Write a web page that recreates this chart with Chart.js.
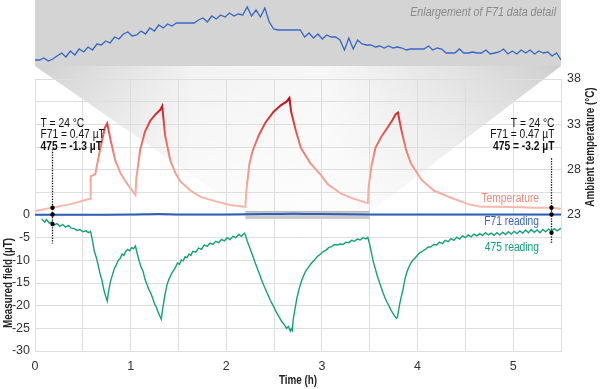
<!DOCTYPE html>
<html>
<head>
<meta charset="utf-8">
<script src="https://cdn.jsdelivr.net/npm/chart.js@4"></script>
<style>
  html, body { margin: 0; padding: 0; background: #fff; }
  #wrap { position: relative; width: 600px; height: 389px; }
  #main, #inset { position: absolute; left: 0; top: 0; }
</style>
</head>
<body>
<div id="wrap">
  <canvas id="main" width="600" height="389"></canvas>
  <canvas id="inset" width="600" height="66"></canvas>
</div>
<script>
// temperature (right axis, °C) vs time (h)
const tempTimes = [0, 0.18, 0.37, 0.577, 0.582, 0.63, 0.68, 0.73, 0.755, 0.79,
  0.84, 0.89, 0.94, 1.0, 1.05, 1.06, 1.10, 1.15, 1.205, 1.26,
  1.31, 1.33, 1.36, 1.415, 1.47, 1.52, 1.625, 1.73, 1.89, 2.04,
  2.20, 2.21, 2.24, 2.27, 2.34, 2.41, 2.495, 2.57, 2.63, 2.66,
  2.68, 2.725, 2.78, 2.88, 2.99, 3.06, 3.2, 3.33, 3.48, 3.49,
  3.52, 3.56, 3.62, 3.69, 3.74, 3.77, 3.795, 3.83, 3.88, 3.93,
  4.04, 4.17, 4.35, 4.53, 4.66, 4.87, 5.08, 5.22, 5.40, 5.50];
const tempValues = [23.45, 23.8, 24.2, 24.8, 27.25, 27.5, 30.2, 32.6, 33.1, 31.3,
  29.0, 27.7, 26.8, 25.9, 25.2, 27.1, 30.2, 32.2, 33.4, 34.1,
  34.6, 35.0, 31.8, 29.0, 27.6, 26.7, 25.7, 25.0, 24.5, 24.1,
  23.9, 25.7, 28.5, 29.9, 31.8, 33.2, 34.4, 35.1, 35.5, 35.9,
  34.3, 32.4, 30.4, 28.7, 27.4, 26.4, 25.35, 24.8, 24.3, 26.2,
  28.5, 30.4, 31.6, 32.7, 33.5, 34.1, 34.3, 32.4, 30.2, 28.7,
  26.9, 25.7, 24.9, 24.2, 23.9, 23.9, 23.85, 23.8, 23.8, 23.7];

// F71 reading (µT)
const f71Times = [0, 0.5, 1.0, 1.3, 1.5, 2.0, 2.4, 2.7, 3.0, 3.5, 4.0, 4.5, 5.0, 5.5];
const f71Values = [0.05, 0.05, 0.1, 0.2, 0.1, 0.1, 0.2, 0.3, 0.2, 0.1, 0.1, 0.1, 0.1, 0.1];

// 475 reading (µT)
const r475Times = [
  0.07, 0.10, 0.12, 0.15, 0.18, 0.20, 0.23, 0.26, 0.29, 0.32,
  0.35, 0.38, 0.41, 0.44, 0.47, 0.50, 0.53, 0.56, 0.58, 0.60,
  0.62, 0.64, 0.66, 0.68, 0.70, 0.72, 0.74, 0.755, 0.77, 0.79,
  0.81, 0.83, 0.85, 0.87, 0.89, 0.91, 0.93, 0.95, 0.97, 0.99,
  1.01, 1.03, 1.05, 1.07, 1.09, 1.11, 1.13, 1.15, 1.17, 1.19,
  1.21, 1.23, 1.25, 1.27, 1.29, 1.31, 1.32, 1.34, 1.36, 1.38,
  1.40, 1.43, 1.45, 1.47, 1.49, 1.51, 1.53, 1.55, 1.57, 1.59,
  1.61, 1.63, 1.65, 1.68, 1.71, 1.74, 1.77, 1.80, 1.83, 1.86,
  1.89, 1.92, 1.95, 1.98, 2.01, 2.04, 2.07, 2.10, 2.13, 2.16,
  2.19, 2.20, 2.22, 2.25, 2.28, 2.31, 2.34, 2.37, 2.40, 2.43,
  2.46, 2.49, 2.52, 2.55, 2.58, 2.61, 2.63, 2.65, 2.67, 2.68,
  2.69, 2.70, 2.72, 2.74, 2.76, 2.78, 2.80, 2.83, 2.86, 2.89,
  2.92, 2.95, 2.98, 3.01, 3.04, 3.07, 3.10, 3.13, 3.16, 3.19,
  3.22, 3.25, 3.28, 3.31, 3.34, 3.37, 3.40, 3.43, 3.46, 3.48,
  3.50, 3.52, 3.54, 3.56, 3.58, 3.60, 3.62, 3.64, 3.66, 3.68,
  3.70, 3.72, 3.74, 3.76, 3.78, 3.79, 3.81, 3.83, 3.85, 3.87,
  3.89, 3.91, 3.93, 3.95, 3.97, 3.99, 4.02, 4.05, 4.08, 4.11,
  4.14, 4.17, 4.20, 4.23, 4.26, 4.29, 4.32, 4.35, 4.38, 4.41,
  4.44, 4.47, 4.50, 4.53, 4.56, 4.59, 4.62, 4.65, 4.68, 4.71,
  4.74, 4.77, 4.80, 4.83, 4.86, 4.89, 4.92, 4.95, 4.98, 5.01,
  5.04, 5.07, 5.10, 5.13, 5.16, 5.19, 5.22, 5.25, 5.28, 5.31,
  5.34, 5.37, 5.40, 5.43, 5.46, 5.50];
const r475Values = [
  -0.9, -1.6, -1.0, -1.8, -1.5, -2.2, -1.9, -2.5, -2.1, -2.7,
  -2.3, -2.9, -3.0, -3.4, -3.2, -3.7, -3.5, -3.9, -3.6, -5.5,
  -8.0, -9.3, -11.0, -13.0, -14.4, -16.5, -18.0, -19.0, -16.8, -14.6,
  -13.2, -11.8, -11.0, -10.0, -9.6, -8.6, -8.9, -8.0, -7.6, -7.9,
  -7.2, -7.4, -6.8, -8.6, -10.2, -11.5, -12.4, -14.2, -15.3, -16.4,
  -17.2, -18.3, -19.6, -20.4, -21.6, -22.5, -23.0, -20.0, -17.5, -15.4,
  -14.2, -12.8, -12.2, -11.5, -10.6, -10.9, -9.9, -10.1, -9.2, -9.4,
  -8.6, -8.9, -8.0, -8.2, -7.3, -7.6, -6.6, -6.9, -6.2, -6.5,
  -5.8, -6.1, -5.4, -5.7, -5.0, -5.4, -4.7, -5.0, -4.3, -4.7,
  -4.0, -4.4, -5.8, -7.5, -9.2, -11.0, -12.6, -14.4, -15.9, -17.3,
  -18.8, -20.0, -21.3, -22.4, -23.5, -24.3, -25.0, -24.6, -25.6, -25.1,
  -25.5, -23.0, -20.5, -18.2, -16.4, -15.0, -13.8, -12.4, -11.5, -10.6,
  -10.0, -9.2, -8.7, -8.1, -7.8, -7.2, -7.0, -6.5, -6.6, -6.4,
  -6.5, -6.0, -6.1, -5.6, -5.8, -5.3, -5.5, -5.0, -5.3, -4.9,
  -6.5, -8.6, -10.5, -12.0, -13.5, -14.8, -16.0, -17.2, -18.3, -19.2,
  -20.0, -20.9, -21.6, -22.3, -22.8, -22.5, -20.0, -18.0, -16.2, -14.0,
  -12.5, -11.4, -10.6, -10.0, -9.6, -9.1, -8.4, -8.0, -7.6, -7.1,
  -7.0, -6.5, -6.6, -6.0, -6.3, -5.6, -5.9, -5.2, -5.6, -4.9,
  -5.3, -4.6, -5.0, -4.4, -4.8, -4.2, -4.6, -4.1, -4.5, -3.9,
  -4.4, -4.0, -4.5, -3.9, -4.4, -3.8, -4.3, -3.7, -4.2, -3.6,
  -4.1, -3.5, -4.0, -3.3, -3.9, -3.2, -3.8, -3.3, -3.9, -3.2,
  -3.7, -3.1, -3.6, -3.0, -3.5, -2.9];

// enlargement of F71 between 2.2 h and 3.5 h (relative units, evenly sampled)
const detailStart = 2.2, detailEnd = 3.5;
const detailValues = [
  2, 2, 4, 1, 3, 6,
  9, 5, 11, 7, 13, 10, 15, 12, 18,
  17, 21, 19, 25, 23, 28, 30, 26, 27,
  31, 28, 34, 31, 37, 34, 38, 36,
  39, 39, 39, 39, 39, 42,
  44, 40, 46, 43, 47, 45, 49, 46, 48, 47,
  55, 46, 52, 45, 54, 40,
  33, 32, 32, 32, 32, 32, 32,
  25, 29, 24, 28, 23, 27, 25, 25, 22,
  12, 24, 13, 22, 18, 17,
  17, 15, 16, 14, 16, 14, 15, 14,
  12, 13, 13, 13, 13, 16, 12, 14, 13,
  9, 9, 9, 13, 9, 9, 10,
  9, 9, 12, 8, 9, 10, 13, 8, 11, 8, 12, 9, 12, 8, 11, 9, 10, 6, 9, 2];

// reading notes at the start and end
const noteTimes = [0.18, 5.40];
const noteTemp = [23.8, 23.8];
const noteF71 = [0.1, 0.1];
const note475 = [-2.0, -3.9];
const noteTop = [14.5, 12.5];
const noteBottom = -6.3;
const noteLines = [
  ['T = 24 °C', 'F71 = 0.47 µT', '475 = -1.3 µT'],
  ['T = 24 °C', 'F71 = 0.47 µT', '475 = -3.2 µT']
];

const FONT = "'Liberation Sans', Arial, sans-serif";
const NARROW = 0.82;
const GRID = '#dedede';
const BLUE = '#2f5eb9';
const GREEN = '#14a07a';

const pts = (xs, ys) => xs.map((x, i) => ({ x: x, y: ys[i] }));

// condensed text: the reference uses a narrow face
function narrowText(c, s, x, y, align, font, color, rot) {
  c.save();
  c.translate(x, y);
  if (rot) c.rotate(rot);
  c.scale(NARROW, 1);
  c.font = font;
  c.fillStyle = color;
  c.textAlign = align;
  c.textBaseline = 'middle';
  c.fillText(s, 0, 0);
  c.restore();
}

function tempColor(ctx) {
  const chart = ctx.chart;
  if (!chart.chartArea) return '#f0a090';
  const s = chart.scales.y2;
  const g = chart.ctx.createLinearGradient(0, s.getPixelForValue(24), 0, s.getPixelForValue(36));
  g.addColorStop(0, '#f6b9ad');
  g.addColorStop(0.35, '#f19a8c');
  g.addColorStop(0.6, '#e86c63');
  g.addColorStop(0.78, '#dc3d3d');
  g.addColorStop(1, '#c20016');
  return g;
}

const decor = {
  id: 'decor',
  beforeDraw(chart) {
    const c = chart.ctx, a = chart.chartArea;
    const xs = chart.scales.x, ys = chart.scales.y;
    const x1 = xs.getPixelForValue(detailStart), x2 = xs.getPixelForValue(detailEnd);
    const yb = ys.getPixelForValue(0) - 3;
    c.save();
    c.beginPath();
    c.moveTo(a.left, 66);
    c.lineTo(a.right, 66);
    c.lineTo(x2, yb);
    c.lineTo(x1, yb);
    c.closePath();
    const g = c.createLinearGradient(a.left, 0, a.right, 0);
    g.addColorStop(0, '#d0d0d0');
    g.addColorStop(0.3, '#f2f2f2');
    g.addColorStop(0.55, '#f7f7f7');
    g.addColorStop(0.8, '#e2e2e2');
    g.addColorStop(1, '#cecece');
    c.fillStyle = g;
    c.fill();
    const v = c.createLinearGradient(0, 66, 0, yb);
    v.addColorStop(0, 'rgba(255,255,255,0)');
    v.addColorStop(1, 'rgba(255,255,255,0.75)');
    c.fillStyle = v;
    c.fill();
    c.restore();
  },
  beforeDatasetsDraw(chart) {
    const c = chart.ctx;
    const xs = chart.scales.x, ys = chart.scales.y;
    const x1 = xs.getPixelForValue(detailStart), x2 = xs.getPixelForValue(detailEnd);
    const y0 = ys.getPixelForValue(0);
    c.save();
    c.fillStyle = '#cbcbcb';
    c.fillRect(x1, y0 - 4, x2 - x1, 8);
    c.fillStyle = '#b9b9b9';
    c.fillRect(x1, y0 - 4, x2 - x1, 1);
    c.restore();
  },
  afterDatasetsDraw(chart) {
    const c = chart.ctx;
    const xs = chart.scales.x, ys = chart.scales.y, ts = chart.scales.y2;
    const textTop = ys.getPixelForValue(noteTop[0]);
    c.save();
    noteTimes.forEach((t, i) => {
      const px = Math.round(xs.getPixelForValue(t)) + 0.5;
      c.strokeStyle = '#111';
      c.lineWidth = 1.3;
      c.setLineDash([1.3, 1.3]);
      c.beginPath();
      c.moveTo(px, ys.getPixelForValue(noteTop[i]));
      c.lineTo(px, ys.getPixelForValue(noteBottom));
      c.stroke();
      c.setLineDash([]);
      c.fillStyle = '#000';
      [ts.getPixelForValue(noteTemp[i]), ys.getPixelForValue(noteF71[i]), ys.getPixelForValue(note475[i])].forEach(py => {
        c.beginPath();
        c.arc(px, py, 2.2, 0, Math.PI * 2);
        c.fill();
      });
      const tx = i === 0 ? px - 12 : px + 3;
      noteLines[i].forEach((s, k) => {
        narrowText(c, s, tx, textTop - 26 + k * 11.7, i === 0 ? 'left' : 'right',
          (k === 2 ? 'bold ' : '') + '12.5px ' + FONT, '#111');
      });
    });
    // series labels
    const lx = xs.getPixelForValue(5.27);
    narrowText(c, 'Temperature', lx, ys.getPixelForValue(3.6), 'right', '12.5px ' + FONT, '#ef8a78');
    narrowText(c, 'F71 reading', lx, ys.getPixelForValue(-1.5), 'right', '12.5px ' + FONT, '#3a66c2');
    narrowText(c, '475 reading', lx, ys.getPixelForValue(-7.2), 'right', '12.5px ' + FONT, GREEN);
    c.restore();
  },
  afterDraw(chart) {
    const c = chart.ctx, a = chart.chartArea;
    const ys = chart.scales.y;
    const f = 'bold 12px ' + FONT;
    narrowText(c, 'Time (h)', (a.left + a.right) / 2, 381, 'center', f, '#222');
    narrowText(c, 'Measured field (µT)', 9, (ys.getPixelForValue(0) + a.bottom) / 2, 'center', f, '#222', -Math.PI / 2);
    narrowText(c, 'Ambient temperature (°C)', 591, (a.top + ys.getPixelForValue(0)) / 2, 'center', f, '#222', -Math.PI / 2);
  }
};

const tickFont = { family: FONT, size: 12.5 };

new Chart(document.getElementById('main'), {
  type: 'line',
  data: {
    datasets: [
      { label: 'F71 reading', data: pts(f71Times, f71Values), yAxisID: 'y',
        borderColor: BLUE, borderWidth: 2, pointRadius: 0, tension: 0.3 },
      { label: '475 reading', data: pts(r475Times, r475Values), yAxisID: 'y',
        borderColor: GREEN, borderWidth: 1.4, pointRadius: 0, tension: 0 },
      { label: 'Temperature', data: pts(tempTimes, tempValues), yAxisID: 'y2',
        borderColor: tempColor, borderWidth: 2, pointRadius: 0, tension: 0 }
    ]
  },
  options: {
    responsive: false,
    animation: false,
    events: [],
    layout: { padding: { top: 79, left: 0, right: 0, bottom: 0 } },
    plugins: { legend: { display: false }, tooltip: { enabled: false } },
    scales: {
      x: {
        type: 'linear', min: 0, max: 5.5,
        afterFit: s => { s.height = 38; },
        grid: { color: GRID, drawTicks: false },
        border: { color: GRID },
        ticks: { stepSize: 0.5, autoSkip: false, maxRotation: 0, padding: 8, color: '#333', font: tickFont,
          callback: v => Number.isInteger(v) ? String(v) : '' }
      },
      y: {
        type: 'linear', position: 'left', min: -30, max: 30,
        afterFit: s => { s.width = 35; },
        grid: { color: GRID, drawTicks: false },
        border: { color: GRID },
        ticks: { stepSize: 5, autoSkip: false, padding: 5, color: '#333', font: tickFont,
          callback: v => v <= 0 ? String(v) : '' }
      },
      y2: {
        type: 'linear', position: 'right', min: 8, max: 38,
        afterFit: s => { s.width = 39; },
        grid: { display: false, drawTicks: false },
        border: { color: GRID },
        ticks: { stepSize: 5, autoSkip: false, padding: 6, color: '#333', font: tickFont,
          callback: v => v >= 23 ? String(v) : '' }
      }
    }
  },
  plugins: [decor]
});

const insetDecor = {
  id: 'insetDecor',
  beforeDraw(chart) {
    const c = chart.ctx, a = chart.chartArea;
    c.save();
    c.fillStyle = '#d4d4d4';
    c.fillRect(a.left, 0, a.right - a.left, 66);
    c.restore();
    narrowText(c, 'Enlargement of F71 data detail', a.right - 5, 12, 'right', 'italic 13px ' + FONT, '#8a8a8a');
  }
};

const step = (detailEnd - detailStart) / (detailValues.length - 1);
new Chart(document.getElementById('inset'), {
  type: 'line',
  data: {
    datasets: [{
      data: detailValues.map((v, i) => ({ x: detailStart + i * step, y: v })),
      borderColor: '#3766c6', borderWidth: 1.3, pointRadius: 0, tension: 0
    }]
  },
  options: {
    responsive: false,
    animation: false,
    events: [],
    layout: { padding: { top: 0, left: 35, right: 39, bottom: 0 } },
    plugins: { legend: { display: false }, tooltip: { enabled: false } },
    scales: {
      x: { type: 'linear', display: false, min: detailStart, max: detailEnd },
      y: { type: 'linear', display: false, min: -4, max: 62 }
    }
  },
  plugins: [insetDecor]
});
</script>
</body>
</html>
